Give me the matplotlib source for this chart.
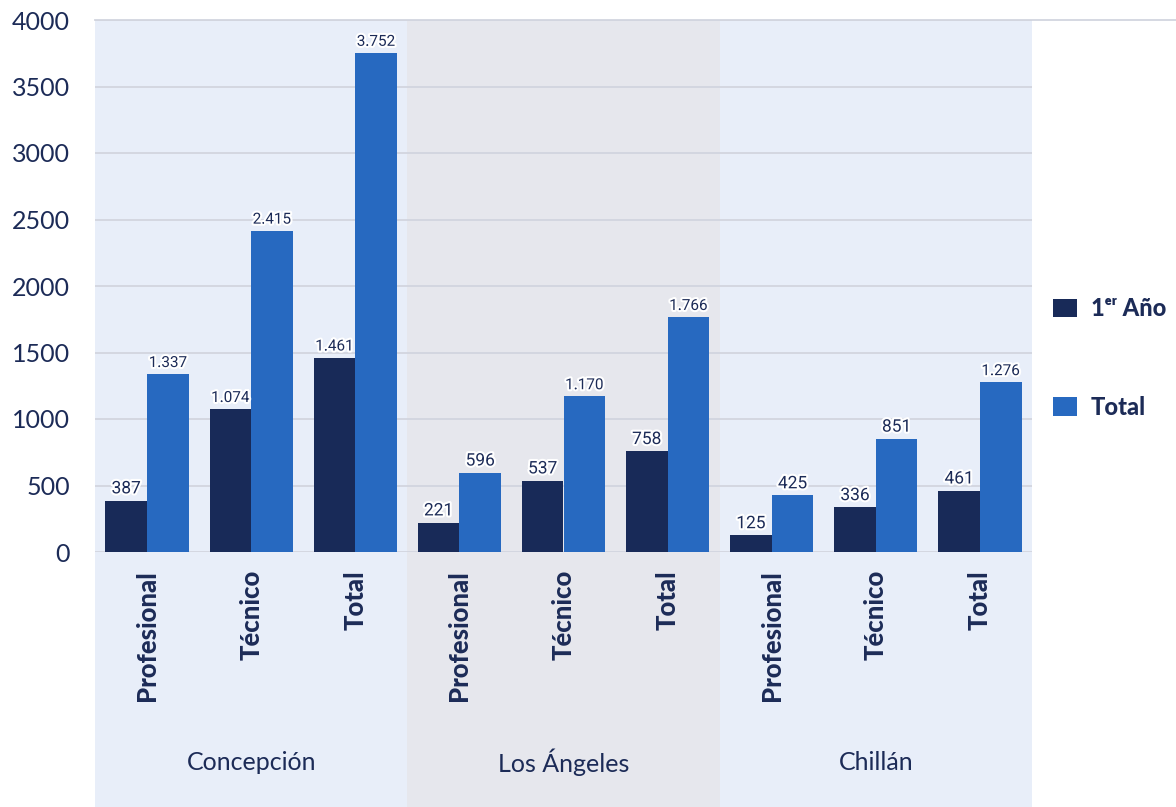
import matplotlib
matplotlib.use("Agg")
import matplotlib.pyplot as plt
import numpy as np
from matplotlib.patches import Rectangle
from matplotlib.lines import Line2D
import matplotlib.patheffects as pe

# ---- data ----
groups = ["Concepción", "Los Ángeles", "Chillán"]
categories = ["Profesional", "Técnico", "Total"] * 3
primer_anio = [387, 1074, 1461, 221, 537, 758, 125, 336, 461]
total = [1337, 2415, 3752, 596, 1170, 1766, 425, 851, 1276]
yticks = [0, 500, 1000, 1500, 2000, 2500, 3000, 3500, 4000]
series_names = ["1ᵉʳ Año", "Total"]

# ---- style ----
DARK = "#182a58"
BLUE = "#2769c0"
TXT = "#1c2b57"
BANDS = ["#e8eef9", "#e6e7ed", "#e8eef9"]
GRID = "#d2d5df"
FONT = ["Lato", "DejaVu Sans"]

fig = plt.figure(figsize=(11.76, 8.07), dpi=100)
ax = fig.add_axes([95 / 1176, (807 - 552) / 807, 937 / 1176, 532 / 807])

x = np.arange(len(categories))
w = 0.4
ax.set_xlim(-0.5, len(categories) - 0.5)
ax.set_ylim(0, 4000)

# bands extending below axes
bottom_ax = -(807 - 552) / 532
for i, c in enumerate(BANDS):
    r = Rectangle((i * 3 - 0.5, bottom_ax), 3, 1 - bottom_ax,
                  transform=ax.get_xaxis_transform(), facecolor=c,
                  edgecolor="none", clip_on=False, zorder=0)
    ax.add_patch(r)

for t in yticks:
    ax.axhline(t, color=GRID, lw=1.3, zorder=1)

b1 = ax.bar(x - w / 2, primer_anio, width=w, color=DARK, zorder=3, label=series_names[0])
b2 = ax.bar(x + w / 2, total, width=w, color=BLUE, zorder=3, label=series_names[1])

def fmt(v):
    return f"{v:,}".replace(",", ".")

for bars, vals in ((b1, primer_anio), (b2, total)):
    for rect, v in zip(bars, vals):
        fs = 11 if v >= 1000 else 12.5
        ax.annotate(fmt(v), (rect.get_x() + rect.get_width() / 2, v),
                    xytext=(0, 3), textcoords="offset points",
                    ha="center", va="bottom", fontsize=fs, color=TXT,
                    family=["Roboto", "DejaVu Sans"], zorder=4,
                    path_effects=[pe.withStroke(linewidth=3, foreground="white")])

ax.set_xticks(x)
ax.set_xticklabels(categories, rotation=90, fontsize=18.5, fontweight="black",
                   color=TXT, family=FONT)
ax.tick_params(axis="x", length=0, pad=13)
ax.set_yticks(yticks)
ax.set_yticklabels([str(t) for t in yticks], fontsize=18, color=TXT, family=FONT)
ax.tick_params(axis="y", length=0, pad=18)
for s in ax.spines.values():
    s.set_visible(False)

for i, g in enumerate(groups):
    ax.text(i * 3 + 1, -(762 - 552) / 532, g, transform=ax.get_xaxis_transform(),
            ha="center", va="center", fontsize=18, color=TXT, family=FONT)

# top border line
fig.add_artist(Line2D([95 / 1176, 1.0], [1 - 20 / 807] * 2, color=GRID, lw=1.3,
                      transform=fig.transFigure))

leg = fig.legend(handles=[b1, b2], labels=series_names, loc="center left",
                 bbox_to_anchor=(1053 / 1176, 1 - 358 / 807), frameon=False,
                 prop={"family": FONT, "weight": "black", "size": 17},
                 handlelength=1.0, handleheight=0.85, labelspacing=3.2,
                 handletextpad=0.6, borderpad=0, borderaxespad=0)
for t in leg.get_texts():
    t.set_color(TXT)

fig.savefig("out.png", dpi=100, facecolor="white")
